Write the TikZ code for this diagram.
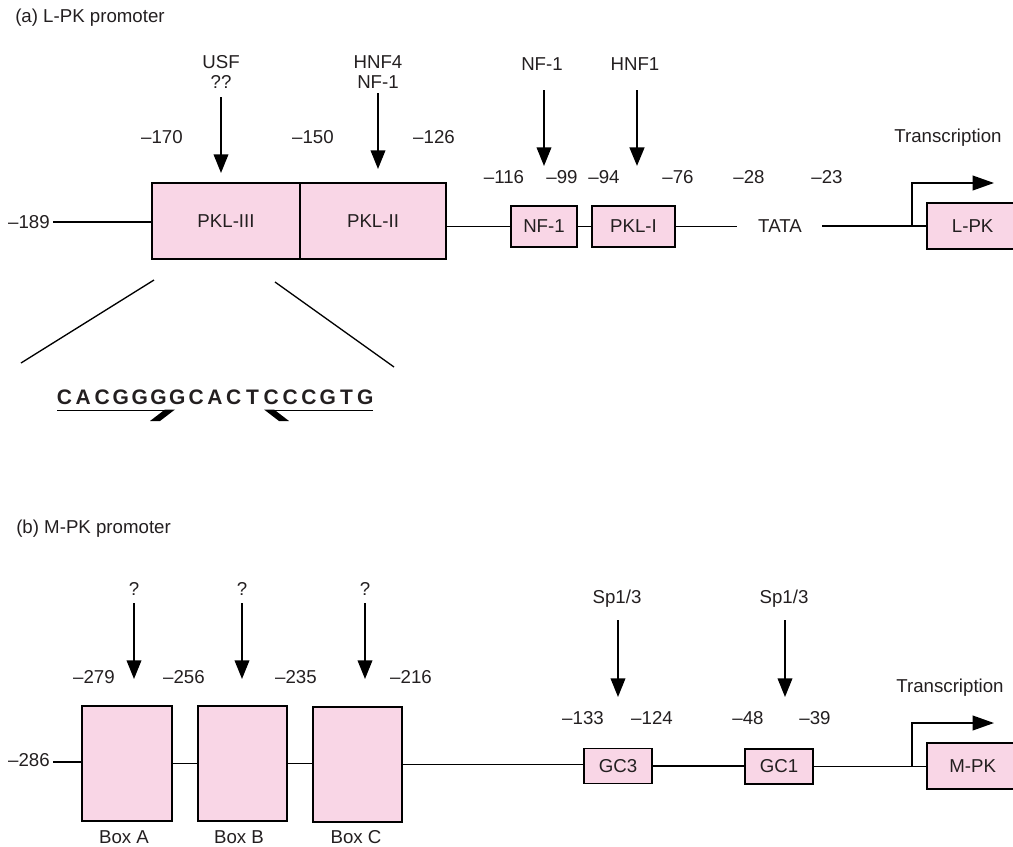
\documentclass[tikz,border=0pt]{standalone}
\usepackage{fontspec}
\setmainfont{Liberation Sans}
\usetikzlibrary{arrows.meta,fit}
\definecolor{pinkfill}{RGB}{249,214,230}
\definecolor{ink}{RGB}{35,31,32}
\begin{document}
\begin{tikzpicture}[x=0.75pt,y=-0.75pt,
  every node/.style={text=ink, font=\fontsize{14}{15}\selectfont, inner sep=0pt},
  box/.style={draw=black, fill=pinkfill, line width=1.4pt, inner sep=0pt},
  dna/.style={line width=1.1pt},
  dnathick/.style={line width=1.6pt},
  bind/.style={line width=1.2pt, -{Triangle[length=14pt,width=11pt]}},
  bindthick/.style={line width=2pt, -{Triangle[length=14pt,width=11pt]}},
  tss/.style={line width=1.3pt, -{Triangle[length=16pt,width=11pt]}},
  seq/.style={font=\fontsize{15.75}{17}\selectfont\bfseries}]
\useasboundingbox (0,0) rectangle (1013,846);

% ---------------- (a) L-PK promoter ----------------
\node[anchor=west] (titleA) at (15,18) {(a) L-PK promoter};

% boxes
\node[box, fit={(152,183)(300,259)}, label={center:PKL-III}] (pkl3) {};
\node[box, fit={(300,183)(446,259)}, label={center:PKL-II}] (pkl2) {};
\node[box, fit={(511,206)(577,247)}, label={center:NF-1}] (nf1) {};
\node[box, fit={(592,206)(675,247)}, label={center:PKL-I}] (pkl1) {};
\node[box, fit={(927,203)(1021,249)}, label={[xshift=-1pt]center:L-PK}] (lpk) {};
\node (tata) at (780,226) {TATA};
\node (m189) at (29,222) {–189};

% main line
\draw[dna] (m189.east) ++(3,0) coordinate (l0) -- (l0 -| pkl3.west);
\draw[dna] (pkl2.east |- nf1.west) -- (nf1.west);
\draw[dna] (nf1.east) -- (pkl1.west);
\coordinate (tataL) at (737,226.5);
\coordinate (tataR) at (822,226);
\draw[dna] (pkl1.east) -- (tataL);
\draw[dnathick] (tataR) -- (lpk.west);
% transcription start
\coordinate (tssA0) at (912,226);
\coordinate (tssA1) at (912,183);
\coordinate (tssA2) at (994,183);
\draw[tss] (tssA0) -- (tssA1) -- (tssA2);
\node (transA) at (948,138) {Transcription};

% factors
\node[align=center] (usf) at (221,72) {USF\\??};
\node[align=center] (hnf4) at (378,72) {HNF4\\NF-1};
\node (nf1lbl) at (542,64) {NF-1};
\node (hnf1) at (635,64) {HNF1};
\coordinate (ua) at (221,97);  \coordinate (ub) at (221,173);
\coordinate (ha) at (378,93);  \coordinate (hb) at (378,169);
\coordinate (na) at (544,90);  \coordinate (nb) at (544,166);
\coordinate (h1a) at (637,90); \coordinate (h1b) at (637,166);
\draw[bind] (ua) -- (ub);
\draw[bind] (ha) -- (hb);
\draw[bind] (na) -- (nb);
\draw[bindthick] (h1a) -- (h1b);

% positions
\node (p170) at (162,137) {–170};
\node (p150) at (313,137) {–150};
\node (p126) at (434,137) {–126};
\node (p116) at (504,177) {–116};
\node (p99) at (562,177) {–99};
\node (p94) at (604,177) {–94};
\node (p76) at (678,177) {–76};
\node (p28) at (749,177) {–28};
\node (p23) at (827,177) {–23};

% zoom lines
\coordinate (zl1) at (154,280); \coordinate (zl2) at (21,363);
\coordinate (zr1) at (275,282); \coordinate (zr2) at (394,367);
\draw[line width=1pt] (zl1) -- (zl2);
\draw[line width=1pt] (zr1) -- (zr2);

% sequence
\foreach \c [count=\i] in {C,A,C,G,G,G,G,C,A,C,T,C,C,C,G,T,G}
  \node[seq] (s\i) at ({64.5+18.8*(\i-1)},397) {\c};

% inverted repeat arrows
\coordinate (ir1a) at (57,410);  \coordinate (ir1b) at (173,410);
\coordinate (ir2a) at (373,410); \coordinate (ir2b) at (266,410);
\draw[line width=0.7pt] (ir1a) -- (ir1b);
\draw[line width=0.7pt] (ir2a) -- (ir2b);
\fill[black] (165,409.5) -- (175,409.5) -- (160,421) -- (150,421) -- cycle;
\fill[black] (264,409.5) -- (274,409.5) -- (289,421) -- (279,421) -- cycle;

% ---------------- (b) M-PK promoter ----------------
\node[anchor=west] (titleB) at (16,529) {(b) M-PK promoter};

\node[box, fit={(82,706)(172,821)}] (boxA) {};
\node[box, fit={(198,706)(287,821)}] (boxB) {};
\node[box, fit={(313,707)(402,822)}] (boxC) {};
\node[box, fit={(584,748.5)(652,783.5)}, label={center:GC3}] (gc3) {};
\node[box, fit={(745,749)(813,784)}, label={center:GC1}] (gc1) {};
\node[box, fit={(927,743)(1021,789)}, label={[xshift=-1pt]center:M-PK}] (mpk) {};
\node (m286) at (29,760) {–286};

\node (labA) at (124,837) {Box A};
\node (labB) at (239,837) {Box B};
\node (labC) at (356,837) {Box C};

\draw[dna] (m286.east) ++(3,2) coordinate (b0) -- (b0 -| boxA.west);
\draw[dna] (boxA.east) -- (boxB.west);
\draw[dna] (boxB.east) -- (boxB.east -| boxC.west);
\draw[dna] (boxC.east) -- (boxC.east -| gc3.west);
\draw[dna] (gc3.east) -- (gc3.east -| gc1.west);
\draw[dna] (gc1.east) -- (gc1.east -| mpk.west);
\coordinate (tssB0) at (912,766.5);
\coordinate (tssB1) at (912,723);
\coordinate (tssB2) at (994,723);
\draw[tss] (tssB0) -- (tssB1) -- (tssB2);
\node (transB) at (950,688) {Transcription};

\node (qA) at (134,589) {?};
\node (qB) at (242,589) {?};
\node (qC) at (365,589) {?};
\coordinate (qa1) at (134,603); \coordinate (qa2) at (134,679);
\coordinate (qb1) at (242,603); \coordinate (qb2) at (242,679);
\coordinate (qc1) at (365,603); \coordinate (qc2) at (365,679);
\draw[bind] (qa1) -- (qa2);
\draw[bind] (qb1) -- (qb2);
\draw[bind] (qc1) -- (qc2);

\node (sp3) at (617,599) {Sp1/3};
\node (sp1) at (784,599) {Sp1/3};
\coordinate (sa1) at (618,620); \coordinate (sa2) at (618,697);
\coordinate (sb1) at (785,620); \coordinate (sb2) at (785,697);
\draw[bind] (sa1) -- (sa2);
\draw[bind] (sb1) -- (sb2);

\node (p279) at (94,677) {–279};
\node (p256) at (184,677) {–256};
\node (p235) at (296,677) {–235};
\node (p216) at (411,677) {–216};
\node (p133) at (583,718) {–133};
\node (p124) at (652,718) {–124};
\node (p48) at (748,718) {–48};
\node (p39) at (815,718) {–39};
\end{tikzpicture}
\end{document}
